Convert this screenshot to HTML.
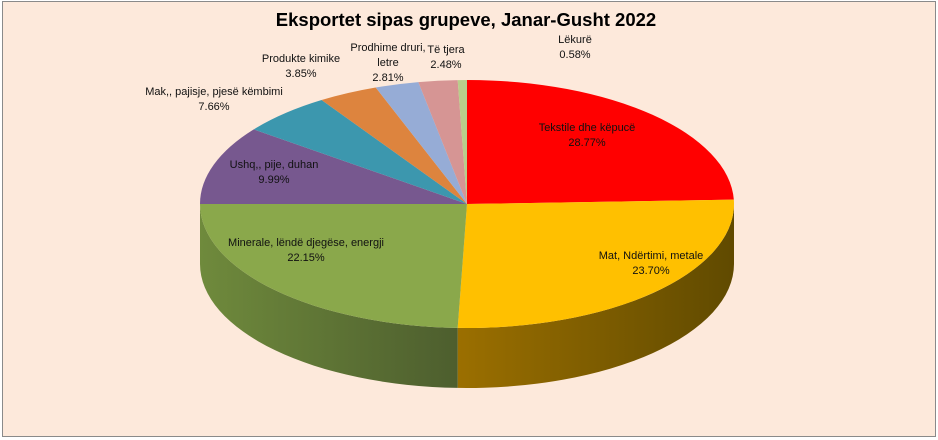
<!DOCTYPE html>
<html><head><meta charset="utf-8"><style>
body{margin:0;width:938px;height:440px;background:#fff;overflow:hidden;font-family:"Liberation Sans",sans-serif}
#c{position:absolute;left:2px;top:1px;width:932px;height:434px;background:#fde9db;border:1px solid #8a8a8a}
.l{position:absolute;font-size:11px;color:#111;text-align:center;line-height:15px;transform:translateX(-50%);white-space:nowrap}
#t{position:absolute;left:466px;top:9px;transform:translateX(-50%);font-weight:bold;font-size:18.5px;white-space:nowrap;color:#000}
</style></head><body>
<div id="c"></div>
<svg id="s" width="938" height="440" style="position:absolute;left:0;top:0"></svg>
<div id="t">Eksportet sipas grupeve, Janar-Gusht 2022</div>
<div class="l" style="left:587px;top:121px">Tekstile dhe këpucë<br>28.77%</div>
<div class="l" style="left:651px;top:249px">Mat, Ndërtimi, metale<br>23.70%</div>
<div class="l" style="left:306px;top:236px">Minerale, lëndë djegëse, energji<br>22.15%</div>
<div class="l" style="left:274px;top:158px">Ushq,, pije, duhan<br>9.99%</div>
<div class="l" style="left:214px;top:85px">Mak,, pajisje, pjesë këmbimi<br>7.66%</div>
<div class="l" style="left:301px;top:52px">Produkte kimike<br>3.85%</div>
<div class="l" style="left:388px;top:41px">Prodhime druri,<br>letre<br>2.81%</div>
<div class="l" style="left:446px;top:43px">Të tjera<br>2.48%</div>
<div class="l" style="left:575px;top:33px">Lëkurë<br>0.58%</div>
<script>
const bounds=[0,88,182,270,307,327,340,349.5,358,360];
const top_=["#ff0000","#ffc000","#8aa84b","#77588f","#3c97ae","#dd843e","#96acd6","#d69594","#b9cd8b"];
const side=[["#c00000","#900000"],["#9b6f00","#604a00"],["#6f8a3c","#4d5e2e"],["#5a4270","#4a365c"],["#2e7486","#255e6d"],["#a8642e","#8a5226"],["#7384a4","#5e6c86"],["#a47272","#865d5d"],["#8e9e6a","#76845a"]];
const cx=467,cy=204,rx=267,ry=124,d=60;
const P=(a,dy=0)=>{const r=a*Math.PI/180;return [cx+rx*Math.sin(r),cy-ry*Math.cos(r)+dy]};
let s="<defs>";side.forEach((c,i)=>{s+=`<linearGradient id="g${i}" x1="0" x2="1" y1="0" y2="0"><stop offset="0" stop-color="${c[0]}"/><stop offset="1" stop-color="${c[1]}"/></linearGradient>`});s+="</defs>";
let angs=[];for(let i=0;i<9;i++)angs.push([bounds[i],bounds[i+1]]);
let sides="",tops="";
angs.forEach(([a1,a2],i)=>{
 let b1=Math.max(a1,90),b2=Math.min(a2,270);
 if(b2>b1){const p1=P(b1),p2=P(b2),q2=P(b2,d),q1=P(b1,d);const lg=(b2-b1)>180?1:0;
  sides+=`<path d="M${p1} A${rx},${ry} 0 ${lg} 1 ${p2} L${q2} A${rx},${ry} 0 ${lg} 0 ${q1} Z" fill="url(#g${i})"/>`;}
 const p1=P(a1),p2=P(a2);const lg=(a2-a1)>180?1:0;
 tops+=`<path d="M${cx},${cy} L${p1} A${rx},${ry} 0 ${lg} 1 ${p2} Z" fill="${top_[i]}"/>`;
});
document.getElementById("s").innerHTML=s+sides+tops;
</script>
</body></html>
